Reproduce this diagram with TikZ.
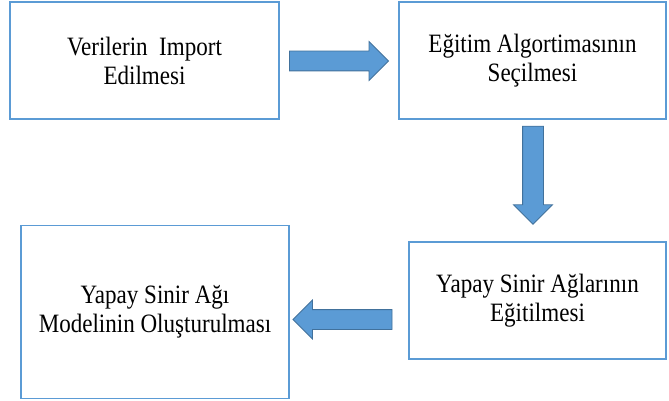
\documentclass[tikz,border=0pt]{standalone}
\usepackage{fontspec}
\setmainfont{Liberation Serif}[FakeStretch=0.87]
\usetikzlibrary{shapes.arrows}
\definecolor{boxblue}{RGB}{91,155,213}
\definecolor{arrowedge}{RGB}{65,113,156}

\begin{document}
\begin{tikzpicture}[x=1pt, y=-1pt,
    stepbox/.style={draw=boxblue, line width=1.8pt, fill=white, align=center,
        font=\fontsize{26.5}{29}\selectfont},
    blockarrow/.style={single arrow, fill=boxblue, draw=arrowedge, line width=0.8pt,
        inner xsep=0pt, inner ysep=9.5pt, single arrow head extend=9.5pt,
        single arrow tip angle=90}]
\useasboundingbox (0,0) rectangle (669,401);

% Process steps
\node[stepbox, minimum width=269pt, minimum height=117pt] (import) at (144.5,60.5)
    {Verilerin\ \ Import\\Edilmesi};
\node[stepbox, minimum width=267pt, minimum height=117pt] (secim) at (532.5,60.5)
    {Eğitim Algortimasının\\Seçilmesi};
\node[stepbox, minimum width=257pt, minimum height=117pt] (egitim) at (537.5,300.5)
    {Yapay Sinir Ağlarının\\Eğitilmesi};
\node[stepbox, minimum width=268pt, minimum height=173pt] (model) at (155,312)
    {Yapay Sinir Ağı\\Modelinin Oluşturulması};

% Block arrows between the steps
\node[blockarrow, minimum height=99pt] (ok1) at (334,61) {};
\node[blockarrow, minimum height=98pt, rotate=-90, inner ysep=10pt,
    single arrow head extend=9pt] (ok2) at (533,170) {};
\node[blockarrow, minimum height=99pt, rotate=180] (ok3) at (347.5,319.5) {};
\end{tikzpicture}
\end{document}
